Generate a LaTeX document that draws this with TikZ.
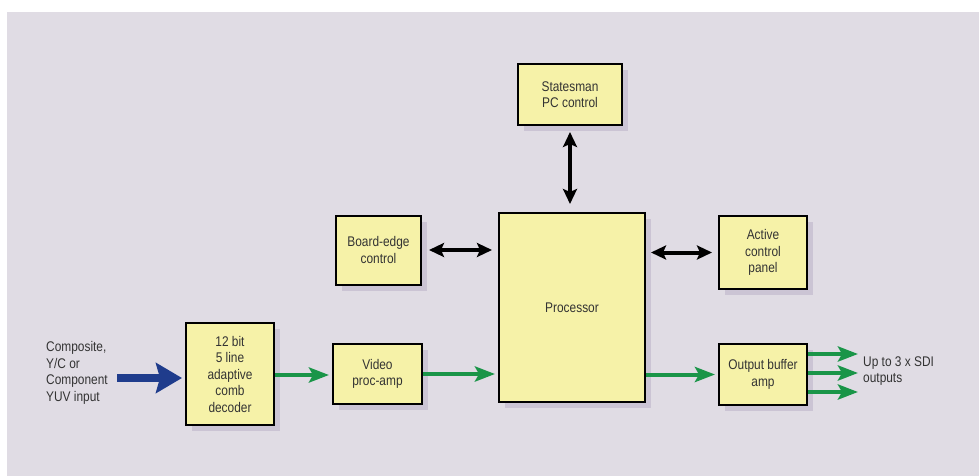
\documentclass[tikz,border=0pt]{standalone}
\usepackage{fontspec}
\setmainfont{Liberation Sans}[FakeStretch=0.85]
\usetikzlibrary{arrows.meta,shadows,calc}
\definecolor{bgc}{HTML}{E0DCE4}
\definecolor{boxc}{HTML}{F6F2A8}
\definecolor{shc}{HTML}{CBC4D4}
\definecolor{grn}{HTML}{1A9548}
\definecolor{blu}{HTML}{1F3C8C}
\definecolor{txt}{HTML}{333333}
\tikzset{
  blk/.style={draw=black, line width=2pt, fill=boxc, align=center, text=txt,
    font=\fontsize{14pt}{16.5pt}\selectfont, inner sep=0pt,
    drop shadow={shadow xshift=6pt, shadow yshift=-6pt, fill=shc, opacity=1}},
  lbl/.style={align=left, text=txt, font=\fontsize{14pt}{16.5pt}\selectfont, inner sep=0pt},
  garrow/.style={draw=grn, line width=4pt, -{Stealth[length=20pt,width=15pt,inset=4pt]}},
  barrow/.style={draw=black, line width=4pt, {Stealth[length=15pt,width=14pt,inset=3pt]}-{Stealth[length=15pt,width=14pt,inset=3pt]}},
  inarrow/.style={draw=blu, line width=8pt, -{Stealth[length=26pt,width=30pt,inset=4pt]}}
}
\begin{document}
\begin{tikzpicture}[x=1pt,y=-1pt]
\path[use as bounding box, fill=white] (0,0) rectangle (979,476);
\fill[bgc] (7,12) rectangle (979,476);

\node[blk, minimum width=88pt, minimum height=102pt] (dec) at (230,374) {12 bit\\5 line\\adaptive\\comb\\decoder};
\node[blk, minimum width=89pt, minimum height=60pt] (vid) at (377.5,374) {Video\\proc-amp};
\node[blk, minimum width=146pt, minimum height=189pt] (proc) at (572,307.5) {Processor};
\node[blk, minimum width=104pt, minimum height=61pt] (state) at (570,94.5) {Statesman\\PC control};
\node[blk, minimum width=85pt, minimum height=69pt] (board) at (378.5,250) {Board-edge\\control};
\node[blk, minimum width=88pt, minimum height=73pt] (active) at (763,252.5) {Active\\control\\panel};
\node[blk, minimum width=88pt, minimum height=61pt] (outb) at (763,374.5) {Output buffer\\amp};

\node[lbl, anchor=west] (inlbl) at (46,373) {Composite,\\Y/C or\\Component\\YUV input};
\node[lbl, anchor=west] (outlbl) at (863,371) {Up to 3 x SDI\\outputs};

\coordinate (inS) at (117,378);
\coordinate (o1) at (858,354);
\coordinate (o2) at (858,373);
\coordinate (o3) at (858,392);

\draw[inarrow, shorten >=3pt] (inS) -- (inS -| dec.west);
\draw[garrow, shorten >=3pt] ([yshift=-1pt]dec.east) -- ([yshift=-1pt]dec.east -| vid.west);
\draw[garrow, shorten >=3pt] (vid.east) -- (vid.east -| proc.west);
\draw[garrow, shorten >=3pt] (outb.west -| proc.east) -- (outb.west);
\draw[garrow] (outb.east |- o1) -- (o1);
\draw[garrow] (outb.east |- o2) -- (o2);
\draw[garrow] (outb.east |- o3) -- (o3);

\draw[barrow, shorten <=6pt, shorten >=8pt] (state.south) -- (state.south |- proc.north);
\draw[barrow, shorten <=7pt, shorten >=6pt] (board.east) -- (board.east -| proc.west);
\draw[barrow, shorten <=5pt, shorten >=6pt] (active.west -| proc.east) -- (active.west);
\end{tikzpicture}
\end{document}
